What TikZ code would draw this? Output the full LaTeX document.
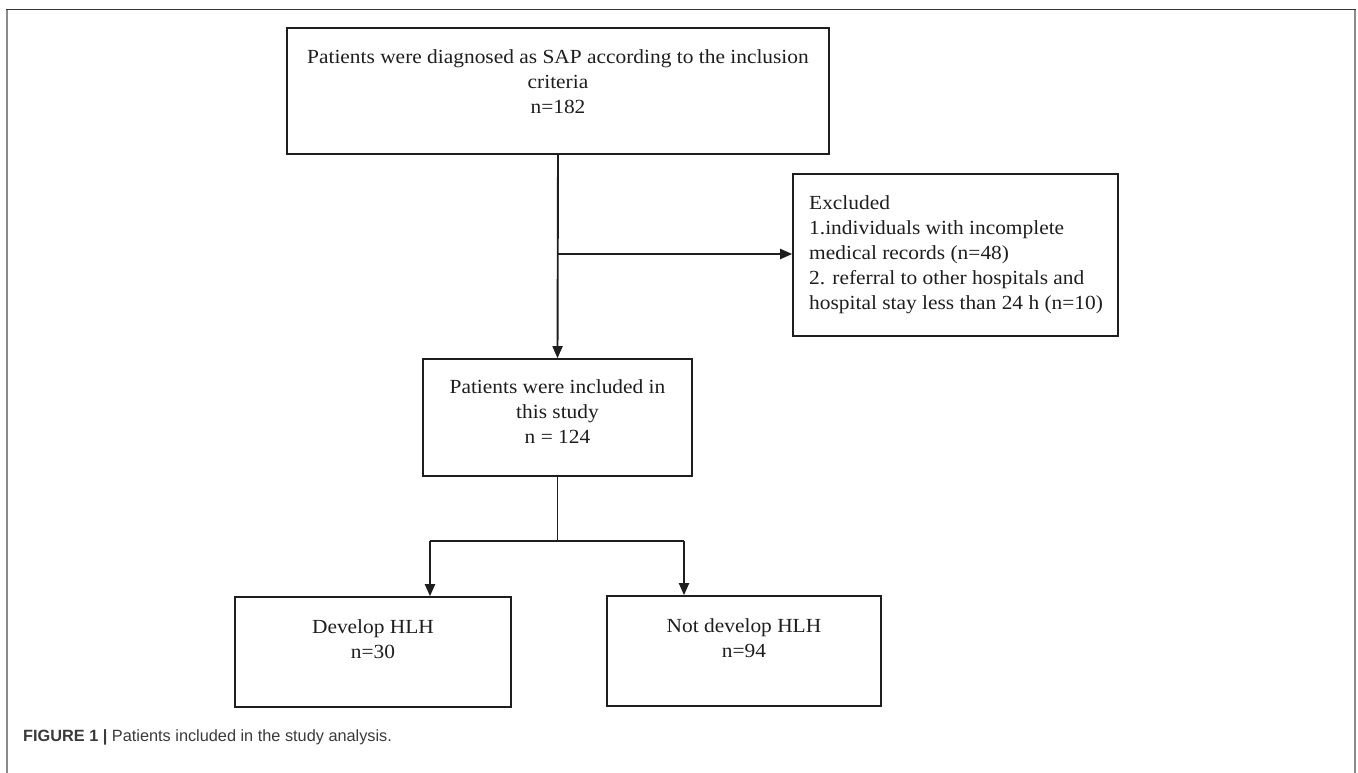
\documentclass[tikz,border=0pt]{standalone}
\usepackage{fontspec}
\setmainfont{Liberation Serif}[FakeStretch=1.07]
\newfontfamily\capfont{Liberation Sans}
\usetikzlibrary{arrows.meta}
\definecolor{ink}{HTML}{1E1E1E}
\definecolor{framegray}{HTML}{8A8A8A}
\definecolor{capgray}{HTML}{3A3A3A}
\begin{document}
\begin{tikzpicture}[x=1pt,y=-1pt,
  box/.style={draw=ink, line width=1.6pt, inner sep=0pt, rectangle},
  txt/.style={inner sep=0pt, text=ink, font=\fontsize{20}{25}\selectfont},
  conn/.style={draw=ink, line width=1.3pt},
  arr/.style={draw=ink, line width=1.9pt, -{Triangle[length=12pt,width=10pt]}}]
\useasboundingbox (0,0) rectangle (1358,773);
% frame
\draw[framegray, line width=2pt] (7,773) -- (7,9.5);
\draw[framegray, line width=2pt] (1355,773) -- (1355,9.5);
\draw[ink!90, line width=1.3pt] (6,9.5) -- (1356,9.5);
% boxes
\node[box, minimum width=542pt, minimum height=126pt] (b1) at (558,91) {};
\node[box, minimum width=269pt, minimum height=117pt] (b2) at (557.5,417.5) {};
\node[box, minimum width=325pt, minimum height=162pt] (b3) at (955.5,255) {};
\node[box, minimum width=276pt, minimum height=110pt] (b4) at (373,652) {};
\node[box, minimum width=274pt, minimum height=110pt] (b5) at (744,651) {};
% texts
\node[txt, align=center, anchor=north] (t1) at (558,48) {\rule{0pt}{15pt}Patients were diagnosed as SAP according to the inclusion\\criteria\\n=182};
\node[txt, align=left, anchor=north west] (t3) at (809,194) {\rule{0pt}{15pt}Excluded\\1.individuals with incomplete\\medical records (n=48)\\2. referral to other hospitals and\\hospital stay less than 24 h (n=10)};
\node[txt, align=center, anchor=north] (t2) at (557.5,378) {\rule{0pt}{15pt}Patients were included in\\this study\\n = 124};
\node[txt, align=center, anchor=north] (t4) at (373,618) {\rule{0pt}{15pt}Develop HLH\\n=30};
\node[txt, align=center, anchor=north] (t5) at (744,617) {\rule{0pt}{15pt}Not develop HLH\\n=94};
% connectors
\draw[arr] (b1.south) -- (b2.north);
\coordinate (j1) at (558,254);
\draw[arr] (j1) -- (j1 -| b3.west);
\coordinate (j2) at (557.5,541);
\draw[conn] (b2.south) -- (j2);
\coordinate (jl) at (430,541);
\coordinate (jr) at (684,541);
\draw[conn] (jl) -- (jr);
\draw[arr] (jl) -- (jl |- b4.north);
\draw[arr] (jr) -- (jr |- b5.north);
% caption
\node[inner sep=0pt, anchor=base west, text=capgray, font=\capfont\fontsize{16.3}{20}\selectfont] (cap) at (23,741) {\textbf{FIGURE 1 |} Patients included in the study analysis.};
\end{tikzpicture}
\end{document}
